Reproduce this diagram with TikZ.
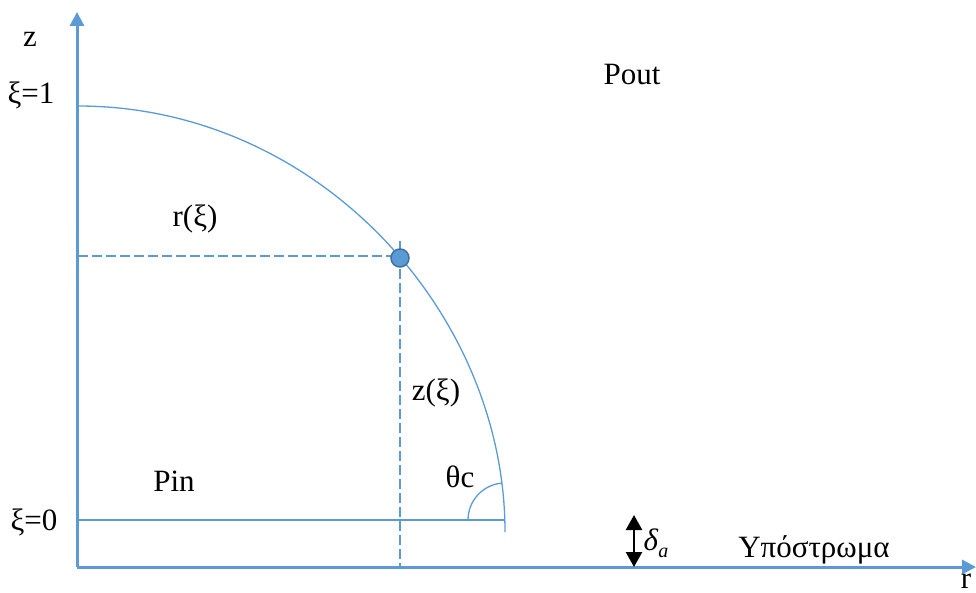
\documentclass[tikz,border=0pt]{standalone}
\usepackage{fontspec}
\setmainfont{Liberation Serif}
\newfontfamily\timesfont{Liberation Serif}
\usetikzlibrary{arrows.meta,positioning}
\definecolor{axisblue}{RGB}{91,155,213}
\definecolor{dotline}{RGB}{65,113,156}

\begin{document}
\begin{tikzpicture}[x=1pt, y=-1pt, font=\timesfont\fontsize{31}{36}\selectfont,
  lbl/.style={anchor=base, inner sep=0pt},
  axisline/.style={axisblue, line width=3pt, -{Triangle[length=14pt, width=14pt]}},
  thinline/.style={axisblue, line width=1.3pt},
  guide/.style={axisblue, line width=1.3pt, dash pattern=on 10pt off 4pt}]
\useasboundingbox (0,0) rectangle (976,593);
% axes
\coordinate (o) at (77,567);
\coordinate (ztip) at (77,12);
\coordinate (rtip) at (976,567);
\draw[axisline] (o)--(ztip);
\draw[axisline] (o)--(rtip);
% contact line and drop profile
\coordinate (top) at (78,106);
\coordinate (foot) at (505,532);
\coordinate (base) at (78,520);
\coordinate (edge) at (505,520);
\coordinate (hstart) at (78,256);
\coordinate (vtop) at (400,241);
\coordinate (vbot) at (400,567);
\draw[thinline] (base)--(edge);
\draw[guide] (hstart)--(400,256);
\draw[guide] (vtop)--(vbot);
\draw[thinline] (top) .. controls (317,106) and (505,312) .. (foot);
\draw[thinline] (468,520) arc[start angle=180, end angle=265, radius=37];
\node[circle, fill=axisblue, draw=dotline, line width=1.5pt, minimum size=18pt, inner sep=0pt] (pt) at (400,258) {};
% labels
\node[lbl] (zlab) at (30,47) {z};
\node[lbl] (xione) at (31,104) {ξ=1};
\node[lbl] (xizero) at (34,530) {ξ=0};
\node[lbl] (pin) at (174,491) {Pin};
\node[lbl] (pout) at (632,85) {Pout};
\node[lbl] (rxi) at (195,227) {r(ξ)};
\node[lbl] (zxi) at (436,400) {z(ξ)};
\node[lbl] (theta) at (460,487) {θc};
\node[lbl] (sub) at (814,557) {Υπόστρωμα};
\node[lbl] (rlab) at (966,588) {r};
% substrate gap
\coordinate (gtop) at (634,515);
\coordinate (gbot) at (634,567);
\draw[black, line width=2.5pt, {Triangle[length=15pt, width=16pt]}-{Triangle[length=15pt, width=16pt]}] (gtop)--(gbot);
\node[lbl] (delta) at (656,550) {\textit{δ}\raisebox{-7pt}{\fontsize{20}{22}\selectfont\textit{a}}};
\end{tikzpicture}
\end{document}
